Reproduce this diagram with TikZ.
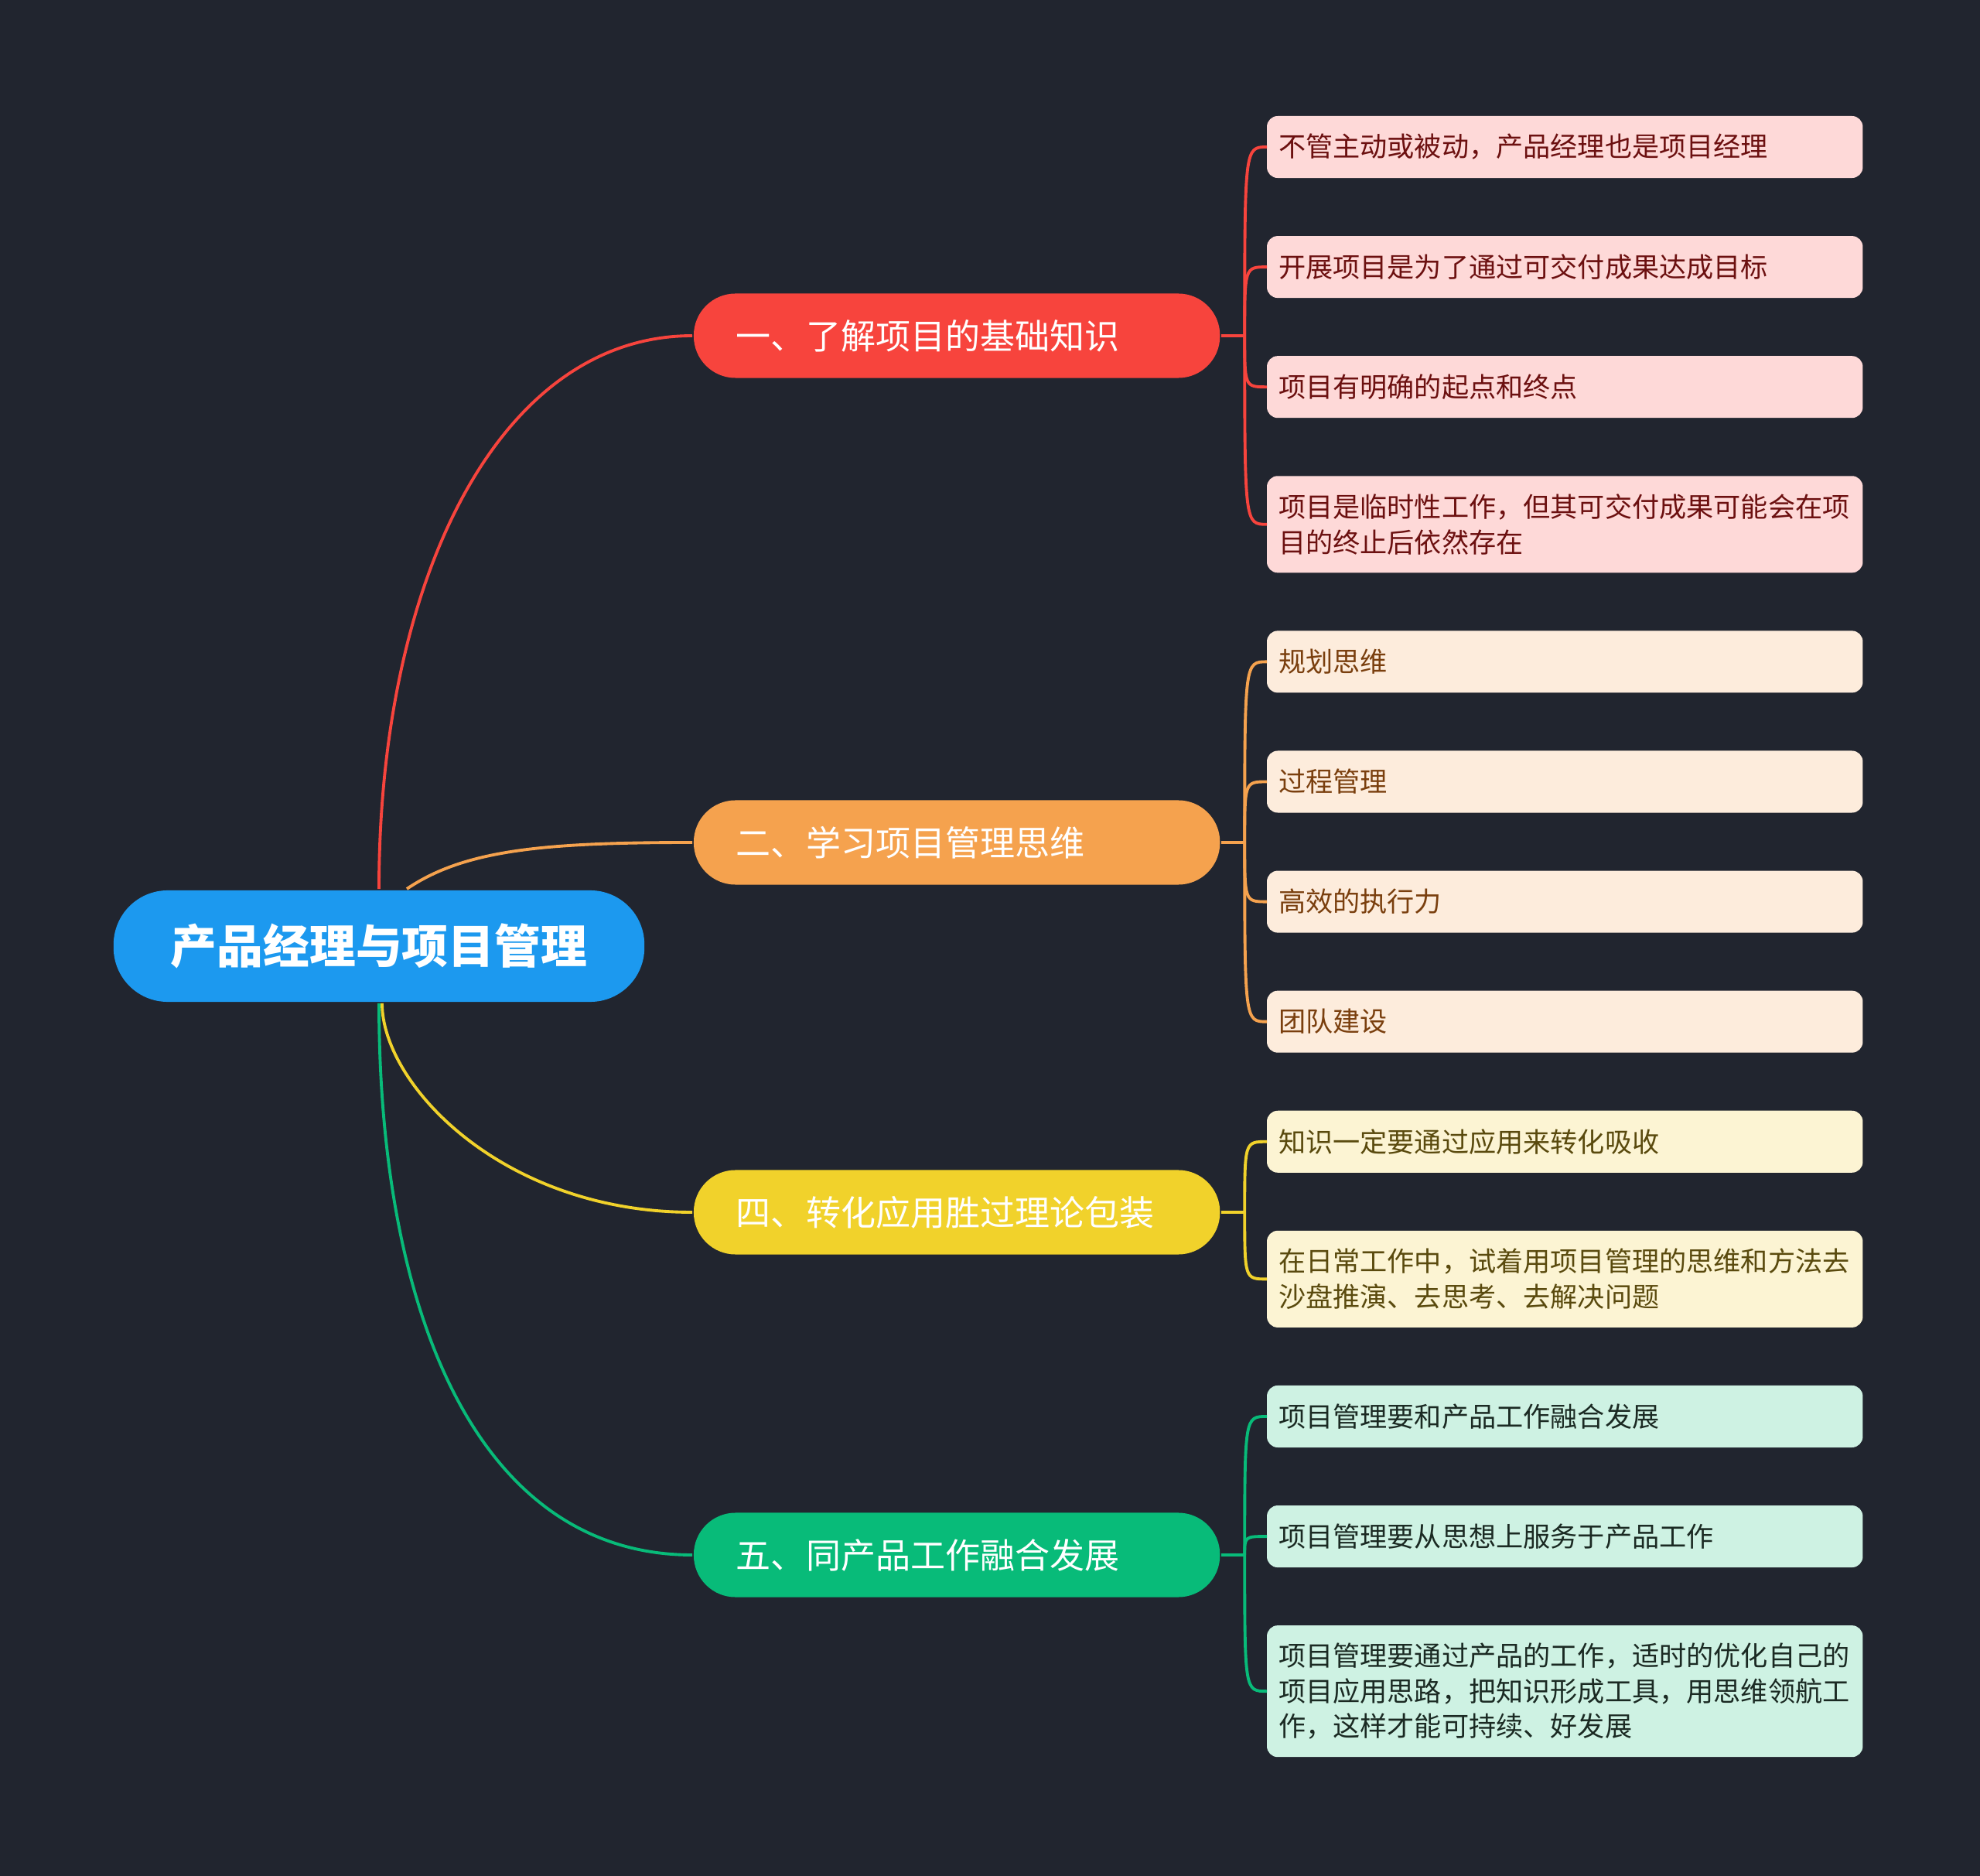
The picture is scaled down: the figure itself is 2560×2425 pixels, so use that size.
\documentclass[tikz,border=0pt]{standalone}
\usepackage{fontspec}
\setmainfont{Noto Sans CJK SC}
\usetikzlibrary{calc,positioning}

\definecolor{bgdark}{HTML}{21252F}
\definecolor{rootblue}{HTML}{1C99EF}
\definecolor{brred}{HTML}{F7443D}
\definecolor{brorange}{HTML}{F5A24E}
\definecolor{bryellow}{HTML}{F1D22B}
\definecolor{brgreen}{HTML}{08BB79}
\definecolor{lfred}{HTML}{FED9D8}
\definecolor{lforange}{HTML}{FDECDC}
\definecolor{lfyellow}{HTML}{FCF4D3}
\definecolor{lfgreen}{HTML}{CEF2E3}
\definecolor{txred}{HTML}{6C1010}
\definecolor{txorange}{HTML}{7A3F0E}
\definecolor{txyellow}{HTML}{5A4A0E}
\definecolor{txgreen}{HTML}{1B2A23}

\tikzset{
  rootnode/.style={fill=rootblue, text=white, rounded corners=0.7cm,
    minimum width=6.86cm, minimum height=1.44cm,
    font=\fontsize{17pt}{20pt}\selectfont\bfseries},
  branch/.style={fill=#1, text=white, rounded corners=0.54cm, anchor=west,
    text width=5.7cm, inner xsep=0.55cm, minimum height=1.09cm, align=left,
    font=\fontsize{12.8pt}{15pt}\selectfont},
  leaf/.style={rounded corners=0.14cm, text width=7.4cm, inner xsep=0.15cm,
    inner ysep=0pt, outer sep=0pt, minimum height=0.8cm, align=left,
    font=\fontsize{10pt}{13pt}\selectfont},
  redleaf/.style={leaf, fill=lfred, text=txred},
  orangeleaf/.style={leaf, fill=lforange, text=txorange},
  yellowleaf/.style={leaf, fill=lfyellow, text=txyellow},
  greenleaf/.style={leaf, fill=lfgreen, text=txgreen},
}

\begin{document}
\begin{tikzpicture}[x=0.01cm, y=-0.01cm, line width=1.1pt]
  \fill[bgdark] (0,0) rectangle (2560,2425);
  \useasboundingbox (0,0) rectangle (2560,2425);

  % Root and main branches
  \node[rootnode] (root) at (490,1223) {产品经理与项目管理};
  \node[branch=brred] (b1) at (895,434) {一、了解项目的基础知识};
  \node[branch=brorange] (b2) at (895,1089) {二、学习项目管理思维};
  \node[branch=bryellow] (b4) at (895,1567) {四、转化应用胜过理论包装};
  \node[branch=brgreen] (b5) at (895,2010) {五、同产品工作融合发展};

  % Leaves
  \node[redleaf, anchor=north west] (l11) at (1638,150) {不管主动或被动，产品经理也是项目经理};
  \node[redleaf, below=0.75cm of l11] (l12) {开展项目是为了通过可交付成果达成目标};
  \node[redleaf, below=0.75cm of l12] (l13) {项目有明确的起点和终点};
  \node[redleaf, below=0.75cm of l13, minimum height=1.25cm] (l14)
    {项目是临时性工作，但其可交付成果可能会在项\\目的终止后依然存在};
  \node[orangeleaf, below=0.75cm of l14] (l21) {规划思维};
  \node[orangeleaf, below=0.75cm of l21] (l22) {过程管理};
  \node[orangeleaf, below=0.75cm of l22] (l23) {高效的执行力};
  \node[orangeleaf, below=0.75cm of l23] (l24) {团队建设};
  \node[yellowleaf, below=0.75cm of l24] (l41) {知识一定要通过应用来转化吸收};
  \node[yellowleaf, below=0.75cm of l41, minimum height=1.25cm] (l42)
    {在日常工作中，试着用项目管理的思维和方法去\\沙盘推演、去思考、去解决问题};
  \node[greenleaf, below=0.75cm of l42] (l51) {项目管理要和产品工作融合发展};
  \node[greenleaf, below=0.75cm of l51] (l52) {项目管理要从思想上服务于产品工作};
  \node[greenleaf, below=0.75cm of l52, minimum height=1.7cm] (l53)
    {项目管理要通过产品的工作，适时的优化自己的\\项目应用思路，把知识形成工具，用思维领航工\\作，这样才能可持续、好发展};

  % Root to branches
  \draw[brred] (root.north) .. controls ($(root.north)+(0,-400)$) and ($(b1.west)+(-250,0)$) .. (b1.west);
  \draw[brorange] ($(root.north)+(36,0)$) .. controls ($(root.north)+(110,-50)$) and ($(b2.west)+(-195,0)$) .. (b2.west);
  \draw[bryellow] ($(root.south)+(4,0)$) .. controls ($(root.south)+(4,105)$) and ($(b4.west)+(-245,0)$) .. (b4.west);
  \draw[brgreen] (root.south) .. controls ($(root.south)+(0,405)$) and ($(b5.west)+(-275,0)$) .. (b5.west);

  % Branches to leaves
  \draw[brred] (b1.east) -- ++(30,0) coordinate (j1);
  \foreach \l in {l11,l12,l13,l14}
    \draw[brred] (j1) .. controls (j1 |- \l.west) .. (\l.west);
  \draw[brorange] (b2.east) -- ++(30,0) coordinate (j2);
  \foreach \l in {l21,l22,l23,l24}
    \draw[brorange] (j2) .. controls (j2 |- \l.west) .. (\l.west);
  \draw[bryellow] (b4.east) -- ++(30,0) coordinate (j4);
  \foreach \l in {l41,l42}
    \draw[bryellow] (j4) .. controls (j4 |- \l.west) .. (\l.west);
  \draw[brgreen] (b5.east) -- ++(30,0) coordinate (j5);
  \foreach \l in {l51,l52,l53}
    \draw[brgreen] (j5) .. controls (j5 |- \l.west) .. (\l.west);
\end{tikzpicture}
\end{document}
